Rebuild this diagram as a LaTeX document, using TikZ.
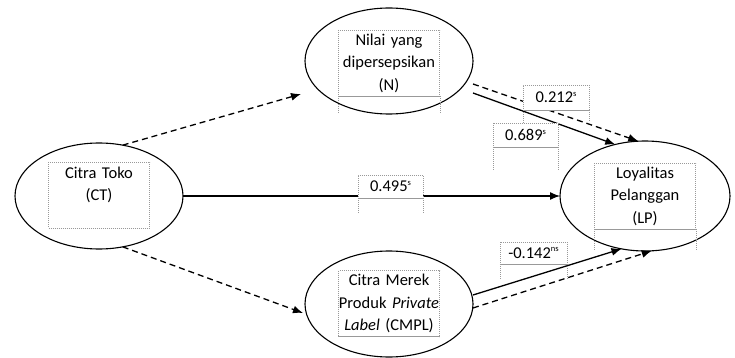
\documentclass[tikz,border=0pt]{standalone}
\usepackage{fontspec}
\setmainfont{Carlito}
\usepackage{tikz}
\usetikzlibrary{shapes, arrows.meta, positioning, calc}
\definecolor{boxgray}{rgb}{0.6, 0.6, 0.6}
\newcommand{\sig}[1]{\raisebox{0.8ex}{\fontsize{8.5}{8.5}\selectfont #1}}

\begin{document}
\begin{tikzpicture}[x=1pt, y=-1pt,
		latentvar/.style={draw, ellipse, line width=1.1pt, minimum width=168pt, minimum height=106pt, inner sep=0pt, outer sep=0pt},
		textbox/.style={draw=boxgray, line width=0.5pt, dash pattern=on 1pt off 1pt, fill=white, minimum width=101pt, minimum height=66pt, text width=100pt, inner xsep=0.5pt, inner ysep=1pt, align=center, font=\fontsize{16.5}{22.5}\selectfont},
		coefbox/.style={draw=boxgray, line width=0.5pt, dash pattern=on 1pt off 1pt, fill=white, inner sep=0pt, font=\fontsize{16.5}{19}\selectfont},
		boxline/.style={boxgray, line width=0.5pt, dash pattern=on 1pt off 1pt},
		cellline/.style={boxgray, line width=0.9pt},
		directpath/.style={line width=1.3pt, -{Latex[length=10pt,width=8pt]}},
		mediatepath/.style={directpath, dash pattern=on 6pt off 4pt}]
		\useasboundingbox (0,0) rectangle (735,358);
		
		% latent variables
		\node[latentvar] (ct) at (99,196) {};
		\node[latentvar] (n) at (389,61) {};
		\node[latentvar, minimum width=170pt, minimum height=110pt] (lp) at (645,196) {};
		\node[latentvar] (cmpl) at (389,304) {};
		
		\node[textbox] (cttext) at (99,195) {Citra Toko\\(CT)\\\mbox{}};
		\node[textbox] (ntext) at (389,63) {Nilai yang\\dipersepsikan\\(N)};
		\node[textbox] (lptext) at (645,196) {Loyalitas\\Pelanggan\\(LP)};
		\node[textbox] (cmpltext) at (389,303.5) {Citra Merek\\\makebox[\linewidth]{Produk \textit{Private}}\\\textit{Label} (CMPL)};
		
		\draw[cellline] (ntext.south west) -- (ntext.south east);
		\draw[boxline] (ntext.south west) -- ++(0,17);
		\draw[boxline] (ntext.south east) -- ++(0,17);
		\draw[cellline] (lptext.south west) -- (lptext.south east);
		\draw[boxline] (lptext.south west) -- ++(0,21);
		\draw[boxline] (lptext.south east) -- ++(0,21);
		\draw[cellline] (cmpltext.south west) -- (cmpltext.south east);
		
		% paths
		\draw[mediatepath] (ct.65) -- ([xshift=-4pt,yshift=-33pt]n.west);
		\draw[mediatepath] (ct.-65) -- ([xshift=-2pt,yshift=-9pt]cmpl.west);
		\draw[directpath] (ct.east) -- (lp.west);
		\draw[directpath] ([yshift=-32pt]n.east) -- (lp.120);
		\draw[mediatepath] ([yshift=-23pt]n.east) -- (lp.97);
		\draw[directpath] ([yshift=9pt]cmpl.east) -- (lp.246);
		\draw[mediatepath] ([yshift=-4pt]cmpl.east) -- (lp.277);
		
		% coefficients
		\node[coefbox, minimum width=66pt, minimum height=25pt] (c212) at (556,97.5) {0.212\sig{s}};
		\node[coefbox, minimum width=65pt, minimum height=24pt] (c689) at (525.5,135) {0.689\sig{s}};
		\node[coefbox, minimum width=65pt, minimum height=23pt] (c495) at (390.5,186.5) {0.495\sig{s}};
		\node[coefbox, minimum width=67pt, minimum height=22pt] (c142) at (533.5,253) {-0.142\sig{ns}};
		
		\draw[cellline] (c212.south west) -- (c212.south east);
		\draw[boxline] (c212.south west) -- ++(0,13);
		\draw[boxline] (c212.south east) -- ++(0,12);
		\draw[cellline] (c689.south west) -- (c689.south east);
		\draw[boxline] (c689.south west) -- ++(0,23);
		\draw[boxline] (c689.south east) -- ++(0,23);
		\draw[cellline] (c495.south west) -- (c495.south east);
		\draw[boxline] (c495.south west) -- ++(0,15);
		\draw[boxline] (c495.south east) -- ++(0,15);
		\draw[cellline] (c142.south west) -- (c142.south east);
		\draw[boxline] (c142.south west) -- ++(0,16);
		\draw[boxline] (c142.south east) -- ++(0,16);
\end{tikzpicture}
\end{document}
